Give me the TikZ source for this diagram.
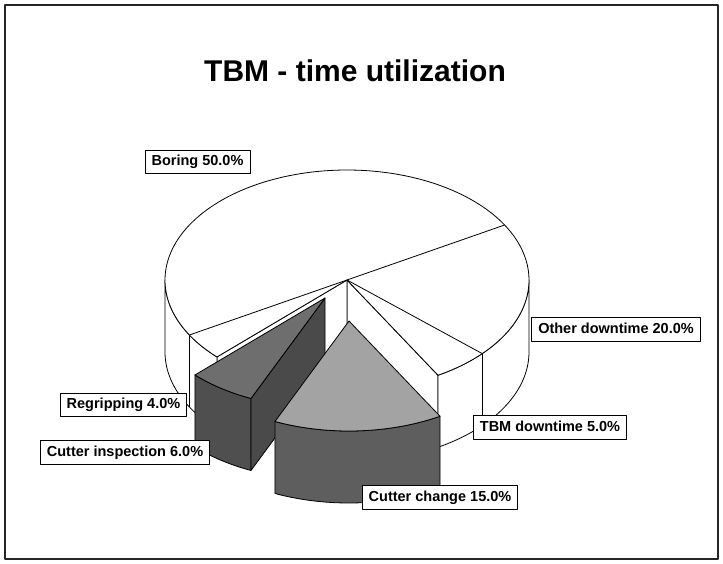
\documentclass[tikz,border=0pt]{standalone}
\usepackage{fontspec}
\setmainfont{Liberation Sans}
\begin{document}
\begin{tikzpicture}[x=1pt,y=-1pt,line join=round,
  edge/.style={draw=black,line width=0.8pt},
  lbl/.style={draw=black,fill=white,line width=0.8pt,
    font=\bfseries\fontsize{14.5}{16}\selectfont,
    inner xsep=6.5pt,inner ysep=5pt,text height=10.5pt,text depth=3pt},
  ttl/.style={font=\bfseries\fontsize{30}{36}\selectfont},
]
\definecolor{lightslice}{gray}{0.64}
\definecolor{darkside}{gray}{0.37}
\definecolor{midtop}{gray}{0.43}
\definecolor{darkcut}{gray}{0.29}
\definecolor{darkouter}{gray}{0.31}

% canvas and frame
\useasboundingbox (0,0) rectangle (723,564);
\fill[white] (0,0) rectangle (723,564);
\draw[line width=1.6pt,draw=black!85] (5,5) rectangle (718,559);

\node[ttl] (title) at (355,71) {TBM - time utilization};

% ---- main pie: Boring, Other downtime, TBM downtime, Regripping ----
% centre (347,280), radii 182 x 110, depth 72
\coordinate (C)  at (347,280);
\coordinate (Cd) at (347,352);
\foreach \n/\a in {T0/0,T30/30,T180/180,T210/210,T224/224.4,Tm42/-42,Tm60/-60}
  \coordinate (\n) at ({347+182*cos(\a)},{280-110*sin(\a)});
\foreach \n/\a in {B0/0,B180/180,B210/210,B224/224.4,Bm42/-42,Bm60/-60}
  \coordinate (\n) at ({347+182*cos(\a)},{352-110*sin(\a)});

% cut faces left open by the pulled-out slices
\draw[edge,fill=white] (C) -- (Tm60) -- (Bm60) -- (Cd) -- cycle;
\draw[edge,fill=white] (C) -- (T224) -- (B224) -- (Cd) -- cycle;
% outer walls
\draw[edge,fill=white] plot[domain=180:224.4,samples=40] ({347+182*cos(\x)},{280-110*sin(\x)})
  -- plot[domain=224.4:180,samples=40] ({347+182*cos(\x)},{352-110*sin(\x)}) -- cycle;
\draw[edge,fill=white] plot[domain=-60:0,samples=40] ({347+182*cos(\x)},{280-110*sin(\x)})
  -- plot[domain=0:-60,samples=40] ({347+182*cos(\x)},{352-110*sin(\x)}) -- cycle;
\draw[edge] (T210) -- (B210);
\draw[edge] (Tm42) -- (Bm42);
% top face
\draw[edge,fill=white] (C) -- (Tm60)
  -- plot[domain=-60:224.4,samples=160] ({347+182*cos(\x)},{280-110*sin(\x)}) -- cycle;
\draw[edge] (C) -- (T30);
\draw[edge] (C) -- (T210);
\draw[edge] (C) -- (Tm42);

% ---- Cutter inspection, pulled out by (-22,18) ----
\coordinate (A)  at (325,298);
\coordinate (Ad) at (325,370);
\coordinate (Ri)  at ({325+182*cos(-114)},{298-110*sin(-114)});
\coordinate (Rid) at ({325+182*cos(-114)},{370-110*sin(-114)});
\draw[edge,fill=darkouter] plot[domain=-135.6:-114,samples=30] ({325+182*cos(\x)},{298-110*sin(\x)})
  -- plot[domain=-114:-135.6,samples=30] ({325+182*cos(\x)},{370-110*sin(\x)}) -- cycle;
\draw[edge,fill=darkcut] (A) -- (Ri) -- (Rid) -- (Ad) -- cycle;
\draw[edge,fill=midtop] (A)
  -- plot[domain=-135.6:-114,samples=30] ({325+182*cos(\x)},{298-110*sin(\x)}) -- cycle;

% ---- Cutter change, pulled out by (2,41) ----
\coordinate (P) at (349,321);
\draw[edge,fill=darkside] plot[domain=-114:-60,samples=50] ({349+182*cos(\x)},{321-110*sin(\x)})
  -- plot[domain=-60:-114,samples=50] ({349+182*cos(\x)},{393-110*sin(\x)}) -- cycle;
\draw[edge,fill=lightslice] (P)
  -- plot[domain=-114:-60,samples=50] ({349+182*cos(\x)},{321-110*sin(\x)}) -- cycle;

% ---- labels ----
\node[lbl] (lboring) at (197.5,162)   {Boring 50.0\%};
\node[lbl] (lother)  at (616,329.5)   {Other downtime 20.0\%};
\node[lbl] (ltbm)    at (550,427.5)   {TBM downtime 5.0\%};
\node[lbl] (lchange) at (440,497.5)   {Cutter change 15.0\%};
\node[lbl] (lregrip) at (123.5,405)   {Regripping 4.0\%};
\node[lbl] (linsp)   at (125,452.5)   {Cutter inspection 6.0\%};
\end{tikzpicture}
\end{document}
